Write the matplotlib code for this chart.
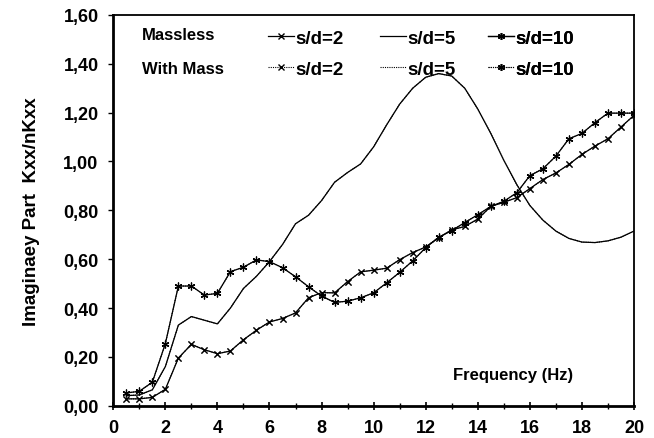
import matplotlib

matplotlib.use("Agg")
import matplotlib.pyplot as plt
from matplotlib.lines import Line2D
from matplotlib.ticker import MultipleLocator, FuncFormatter

plt.rcParams["font.family"] = ["Liberation Sans", "DejaVu Sans"]
plt.rcParams["font.weight"] = "bold"

# Frequency (Hz), one point every 0.5 Hz
freq = [0.5 * i for i in range(1, 41)]

massless_sd2 = [
    0.028, 0.028, 0.034, 0.067, 0.195, 0.251, 0.229, 0.213, 0.224, 0.270,
    0.309, 0.343, 0.357, 0.380, 0.442, 0.463, 0.462, 0.508, 0.548, 0.555,
    0.563, 0.598, 0.627, 0.650, 0.688, 0.720, 0.734, 0.764, 0.816, 0.833,
    0.852, 0.889, 0.926, 0.953, 0.988, 1.029, 1.063, 1.093, 1.141, 1.189,
]
massless_sd5 = [
    0.041, 0.044, 0.065, 0.160, 0.330, 0.365, 0.350, 0.335, 0.400, 0.480,
    0.530, 0.590, 0.660, 0.745, 0.780, 0.840, 0.915, 0.955, 0.990, 1.060,
    1.150, 1.235, 1.300, 1.345, 1.360, 1.350, 1.300, 1.215, 1.115, 1.005,
    0.905, 0.820, 0.760, 0.715, 0.685, 0.670, 0.668, 0.675, 0.690, 0.715,
]
massless_sd10 = [
    0.052, 0.059, 0.096, 0.254, 0.490, 0.490, 0.453, 0.460, 0.549, 0.567,
    0.597, 0.590, 0.565, 0.528, 0.487, 0.449, 0.423, 0.428, 0.442, 0.462,
    0.503, 0.546, 0.593, 0.647, 0.690, 0.717, 0.750, 0.782, 0.816, 0.837,
    0.872, 0.942, 0.970, 1.022, 1.093, 1.115, 1.159, 1.198, 1.198, 1.198,
]
# the "with mass" curves sit on top of the massless ones in the picture
mass_sd2 = list(massless_sd2)
mass_sd5 = list(massless_sd5)
mass_sd10 = list(massless_sd10)

x_ticks = [0, 2, 4, 6, 8, 10, 12, 14, 16, 18, 20]
y_ticks = [0.0, 0.2, 0.4, 0.6, 0.8, 1.0, 1.2, 1.4, 1.6]

asterisk = (6, 2, 0)

fig = plt.figure(figsize=(6.54, 4.39), dpi=100)
ax = fig.add_axes([0.1732, 0.0736, 0.7962, 0.8900])

mass_style = dict(color="black", linewidth=0.8, linestyle=(0, (1, 1)))
solid_style = dict(color="black", linewidth=0.9)

ax.plot(freq, mass_sd2, marker="x", markersize=5, markeredgewidth=0.7, **mass_style)
ax.plot(freq, mass_sd5, **mass_style)
ax.plot(freq, mass_sd10, marker=asterisk, markersize=5.5, markeredgewidth=0.7, **mass_style)
ax.plot(freq, massless_sd2, marker="x", markersize=5, markeredgewidth=0.9, **solid_style)
ax.plot(freq, massless_sd5, **solid_style)
ax.plot(freq, massless_sd10, marker=asterisk, markersize=5.5, markeredgewidth=0.9, **solid_style)

ax.set_xlim(0, 20)
ax.set_ylim(0, 1.6)
ax.set_xticks(x_ticks)
ax.set_yticks(y_ticks)
ax.xaxis.set_minor_locator(MultipleLocator(1))
ax.yaxis.set_major_formatter(FuncFormatter(lambda v, _: f"{v:.2f}".replace(".", ",")))

ax.tick_params(axis="x", which="major", direction="inout", length=5.5, width=1.2,
               labelsize=13, pad=7)
ax.tick_params(axis="x", which="minor", direction="inout", length=4.5, width=1.0)
ax.tick_params(axis="y", which="major", direction="out", length=3.6, width=1.0,
               labelsize=13, pad=7)
for lab in ax.get_xticklabels() + ax.get_yticklabels():
    lab.set_fontweight("bold")

ax.spines["left"].set_linewidth(2.0)
ax.spines["bottom"].set_linewidth(2.0)
ax.spines["top"].set_linewidth(1.3)
ax.spines["right"].set_linewidth(1.3)

ax.set_ylabel("Imaginaey Part  Kxx/nKxx", fontsize=13.5, fontweight="bold", labelpad=17)
ax.text(0.767, 0.081, "Frequency (Hz)", transform=ax.transAxes, fontsize=12,
        fontweight="bold", ha="center", va="center")

# legend: two rows, "Massless" and "With Mass"
ax.text(0.0545, 0.9488, "Massless", transform=ax.transAxes, fontsize=12,
        fontweight="bold", ha="left", va="center")
ax.text(0.0545, 0.8636, "With Mass", transform=ax.transAxes, fontsize=12,
        fontweight="bold", ha="left", va="center")

legend_cols = [
    (0.2971, "s/d=2", dict(marker="x", markersize=4)),
    (0.5122, "s/d=5", dict()),
    (0.7196, "s/d=10", dict(marker=asterisk, markersize=5)),
]
for x_anchor, label, mk in legend_cols:
    handles = [Line2D([], [], **mk, **solid_style), Line2D([], [], **mk, **mass_style)]
    leg = ax.legend(handles, [label, label], frameon=False, loc="upper left",
                    bbox_to_anchor=(x_anchor, 0.962), borderpad=0, borderaxespad=0,
                    handlelength=1.39, handletextpad=0.05, labelspacing=0.72,
                    prop={"weight": "bold", "size": 13.5})
    ax.add_artist(leg)

fig.savefig("out.png", dpi=100)
